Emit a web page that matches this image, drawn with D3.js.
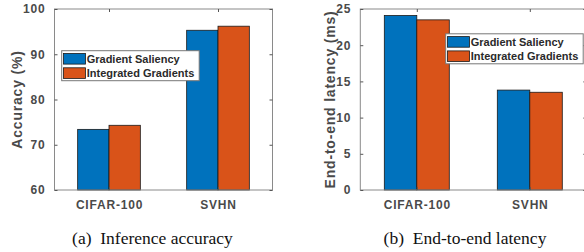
<!DOCTYPE html>
<html><head><meta charset="utf-8">
<script src="https://cdn.jsdelivr.net/npm/d3@7"></script>
<style>
html,body{margin:0;padding:0;background:#fff;}
svg{display:block;}
</style></head>
<body>
<svg id="chart" width="584" height="252"></svg>
<script>
const categories = ["CIFAR-100", "SVHN"];
const seriesNames = ["Gradient Saliency", "Integrated Gradients"];
const accuracyGS = [73.4, 95.3];
const accuracyIG = [74.3, 96.2];
const latencyGS = [24.1, 13.8];
const latencyIG = [23.5, 13.5];
const accuracyTicks = [60, 70, 80, 90, 100];
const latencyTicks = [0, 5, 10, 15, 20, 25];
const colors = ["#0072BD", "#D95319"];

const svg = d3.select("#chart");
const sansFont = "'Liberation Sans', Arial, Helvetica, sans-serif";
const textColor = "#4a4a4a";
const axisColor = "#8a8a8a";

function panel(opt) {
  const {x0, x1, y0, y1, domain, ticks, s1, s2, ylabel, ylabelX, legendX, legendY, caption, captionX} = opt;
  const g = svg.append("g");
  const x = d3.scalePoint().domain(categories).range([x0, x1]).padding(0.5);
  const barW = x.step() * 0.2875;
  const xs = d3.scaleBand().domain(seriesNames).range([-barW, barW]);
  const y = d3.scaleLinear().domain(domain).range([y1, y0]);

  // bars
  const data = [];
  categories.forEach((c, i) => {
    data.push({c, s: seriesNames[0], v: s1[i], k: 0});
    data.push({c, s: seriesNames[1], v: s2[i], k: 1});
  });
  g.selectAll("rect.bar").data(data).enter().append("rect")
    .attr("class", "bar")
    .attr("x", d => x(d.c) + xs(d.s))
    .attr("y", d => y(d.v))
    .attr("width", xs.bandwidth())
    .attr("height", d => y(domain[0]) - y(d.v))
    .attr("fill", d => colors[d.k])
    .attr("stroke", "#1a1a1a")
    .attr("stroke-width", 0.8);

  // box
  g.append("rect").attr("x", x0).attr("y", y0).attr("width", x1 - x0).attr("height", y1 - y0)
    .attr("fill", "none").attr("stroke", axisColor).attr("stroke-width", 1);

  // y axis (left, inner ticks)
  const yAxis = d3.axisLeft(y).tickValues(ticks).tickSizeInner(-3).tickSizeOuter(0).tickPadding(9);
  const ya = g.append("g").attr("transform", `translate(${x0},0)`).call(yAxis);
  ya.select(".domain").remove();
  ya.selectAll("line").attr("stroke", "#555");
  ya.selectAll("text").attr("font-family", sansFont).attr("font-weight", "bold")
    .attr("font-size", 12).attr("letter-spacing", "0.8px").attr("fill", textColor);
  // right axis ticks
  const yr = g.append("g").attr("transform", `translate(${x1},0)`)
    .call(d3.axisRight(y).tickValues(ticks).tickSizeInner(-3).tickSizeOuter(0).tickFormat(""));
  yr.select(".domain").remove();
  yr.selectAll("line").attr("stroke", "#555");

  // x axis
  const xa = g.append("g").attr("transform", `translate(0,${y1})`)
    .call(d3.axisBottom(x).tickSizeInner(-3).tickSizeOuter(0).tickPadding(10));
  xa.select(".domain").remove();
  xa.selectAll("line").attr("stroke", "#555");
  xa.selectAll("text").attr("font-family", sansFont).attr("font-weight", "bold")
    .attr("font-size", 12).attr("letter-spacing", "0.8px").attr("fill", textColor);
  const xt = g.append("g").attr("transform", `translate(0,${y0})`)
    .call(d3.axisTop(x).tickSizeInner(-3).tickSizeOuter(0).tickFormat(""));
  xt.select(".domain").remove();
  xt.selectAll("line").attr("stroke", "#555");

  // y label
  g.append("text")
    .attr("transform", `translate(${ylabelX},${(y0 + y1) / 2}) rotate(-90)`)
    .attr("text-anchor", "middle")
    .attr("font-family", sansFont).attr("font-weight", "bold").attr("font-size", 14)
    .attr("letter-spacing", "0.8px")
    .attr("fill", textColor).text(ylabel);

  // legend
  const lg = g.append("g").attr("transform", `translate(${legendX},${legendY})`);
  lg.append("rect").attr("x", 0).attr("y", 0).attr("width", 137.5).attr("height", 30)
    .attr("fill", "#fff").attr("stroke", "#777").attr("stroke-width", 1);
  seriesNames.forEach((s, i) => {
    lg.append("rect").attr("x", 1.8).attr("y", 2.8 + i * 14.3).attr("width", 22).attr("height", 10.6)
      .attr("fill", colors[i]).attr("stroke", "#1a1a1a").attr("stroke-width", 0.8);
    lg.append("text").attr("x", 25).attr("y", 12 + i * 14.3)
      .attr("font-family", sansFont).attr("font-weight", "bold").attr("font-size", 11)
      .attr("fill", "#2a2a2a").text(s);
  });

  // caption
  g.append("text").attr("x", captionX).attr("y", 244).attr("text-anchor", "middle")
    .attr("font-family", "'Liberation Serif', 'DejaVu Serif', serif").attr("font-size", 17.5)
    .attr("fill", "#111").attr("xml:space", "preserve").style("white-space", "pre")
    .text(caption);
}

panel({x0: 54.5, x1: 272.5, y0: 9, y1: 190, domain: [60, 100], ticks: accuracyTicks,
  s1: accuracyGS, s2: accuracyIG, ylabel: "Accuracy (%)", ylabelX: 22,
  legendX: 61.7, legendY: 50.7, caption: "(a)  Inference accuracy", captionX: 152.5});
panel({x0: 360.3, x1: 586.3, y0: 9, y1: 190, domain: [0, 25], ticks: latencyTicks,
  s1: latencyGS, s2: latencyIG, ylabel: "End-to-end latency (ms)", ylabelX: 335,
  legendX: 445.7, legendY: 33.8, caption: "(b)  End-to-end latency", captionX: 465});
</script>
</body></html>
